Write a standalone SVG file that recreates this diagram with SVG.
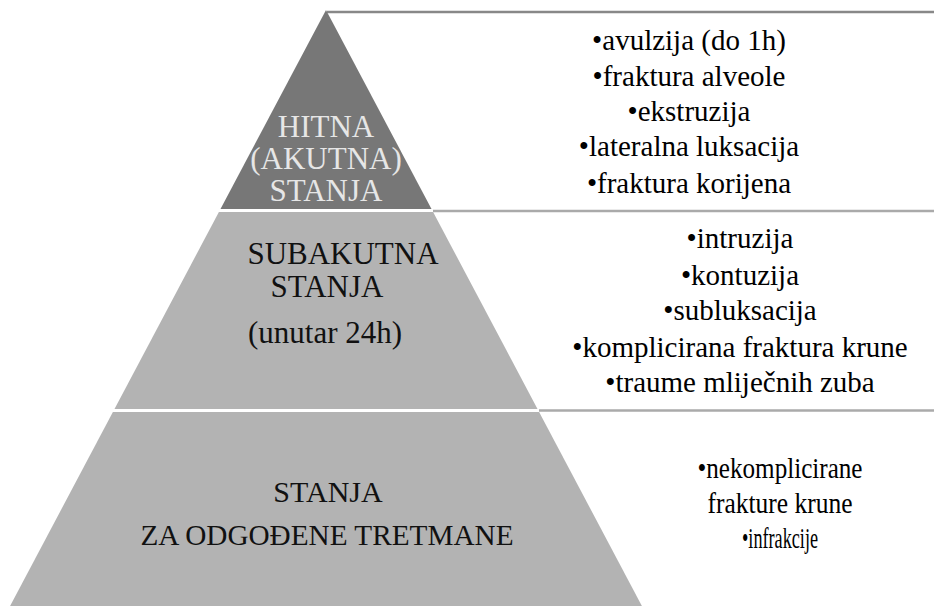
<svg xmlns="http://www.w3.org/2000/svg" width="934" height="606" viewBox="0 0 934 606">
<rect width="934" height="606" fill="#ffffff"/>
<g id="connectors" fill="none" stroke-width="2.5">
<line x1="327" y1="12" x2="934" y2="12" stroke="#888888"/>
<line x1="433" y1="211" x2="934" y2="211" stroke="#aaaaaa"/>
<line x1="539" y1="410.5" x2="934" y2="410.5" stroke="#aaaaaa"/>
</g>
<g id="node-top">
<polygon points="326,10 431.5,209 220.5,209" fill="#777777"/>
<text x="326" y="137" font-family="Liberation Serif" font-size="31" fill="#e6e6e6" text-anchor="middle">HITNA</text>
<text x="326" y="169" font-family="Liberation Serif" font-size="31" fill="#e6e6e6" text-anchor="middle">(AKUTNA)</text>
<text x="326" y="201" font-family="Liberation Serif" font-size="31" fill="#e6e6e6" text-anchor="middle">STANJA</text>
</g>
<g id="node-middle">
<polygon points="218.9,212 433.1,212 537.5,409 114.5,409" fill="#b3b3b3"/>
<text x="343" y="264" font-family="Liberation Serif" font-size="31" fill="#111111" text-anchor="middle">SUBAKUTNA</text>
<text x="327" y="297" font-family="Liberation Serif" font-size="31" fill="#111111" text-anchor="middle">STANJA</text>
<text x="325" y="343" font-family="Liberation Serif" font-size="31" fill="#111111" text-anchor="middle">(unutar 24h)</text>
</g>
<g id="node-bottom">
<polygon points="112.9,412 539.1,412 641.9,606 10.1,606" fill="#b3b3b3"/>
<text x="328" y="502" font-family="Liberation Serif" font-size="30" fill="#111111" text-anchor="middle">STANJA</text>
<text x="327" y="545" font-family="Liberation Serif" font-size="30" fill="#111111" text-anchor="middle" textLength="373" lengthAdjust="spacingAndGlyphs">ZA ODGOĐENE TRETMANE</text>
</g>
<g id="list-top">
<text x="689" y="50" font-family="Liberation Serif" font-size="29" fill="#000000" text-anchor="middle">•avulzija (do 1h)</text>
<text x="689" y="86" font-family="Liberation Serif" font-size="29" fill="#000000" text-anchor="middle">•fraktura alveole</text>
<text x="689" y="121" font-family="Liberation Serif" font-size="29" fill="#000000" text-anchor="middle">•ekstruzija</text>
<text x="689" y="156" font-family="Liberation Serif" font-size="29" fill="#000000" text-anchor="middle">•lateralna luksacija</text>
<text x="689" y="193" font-family="Liberation Serif" font-size="29" fill="#000000" text-anchor="middle">•fraktura korijena</text>
</g>
<g id="list-middle">
<text x="740" y="248" font-family="Liberation Serif" font-size="29" fill="#000000" text-anchor="middle">•intruzija</text>
<text x="740" y="285" font-family="Liberation Serif" font-size="29" fill="#000000" text-anchor="middle">•kontuzija</text>
<text x="740" y="320" font-family="Liberation Serif" font-size="29" fill="#000000" text-anchor="middle">•subluksacija</text>
<text x="740" y="357" font-family="Liberation Serif" font-size="29" fill="#000000" text-anchor="middle">•komplicirana fraktura krune</text>
<text x="740" y="392" font-family="Liberation Serif" font-size="29" fill="#000000" text-anchor="middle">•traume mliječnih zuba</text>
</g>
<g id="list-bottom">
<text x="780" y="478" font-family="Liberation Serif" font-size="29" fill="#000000" text-anchor="middle" textLength="165" lengthAdjust="spacingAndGlyphs">•nekomplicirane</text>
<text x="780" y="513" font-family="Liberation Serif" font-size="29" fill="#000000" text-anchor="middle" textLength="145" lengthAdjust="spacingAndGlyphs">frakture krune</text>
<text x="780" y="548" font-family="Liberation Serif" font-size="29" fill="#000000" text-anchor="middle" textLength="76" lengthAdjust="spacingAndGlyphs">•infrakcije</text>
</g>
</svg>
